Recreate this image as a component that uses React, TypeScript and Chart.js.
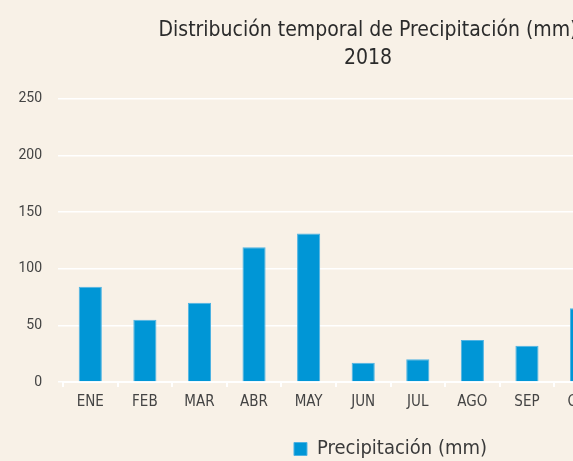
import React, { useEffect, useRef } from "react";
import { Chart, registerables } from "chart.js";

Chart.register(...registerables);

const months = ["ENE", "FEB", "MAR", "ABR", "MAY", "JUN", "JUL", "AGO", "SEP", "OCT", "NOV", "DIC"];
const precipitation = [84, 55, 70, 119, 131, 17, 20, 37, 32, 65, 90, 80];
const titleLines = ["Distribución temporal de Precipitación (mm)", "2018"];
const seriesLabel = "Precipitación (mm)";

const BG = "#f8f1e7";
const BAR = "#0096d6";
const W = 740;
const H = 469;
const COND = "'Liberation Sans Narrow', 'DejaVu Sans Condensed', sans-serif";

export default function App() {
  const ref = useRef<HTMLCanvasElement | null>(null);
  useEffect(() => {
    if (!ref.current) return;
    const chart = new Chart(ref.current, {
      type: "bar",
      data: {
        labels: months,
        datasets: [
          {
            label: seriesLabel,
            data: precipitation,
            backgroundColor: BAR,
            borderColor: "#4fb3e3",
            borderWidth: 1,
            categoryPercentage: 0.8,
            barPercentage: 0.53,
          },
        ],
      },
      options: {
        responsive: false,
        animation: false,
        layout: { padding: { left: 18, right: 22, top: 0, bottom: 0 } },
        plugins: {
          title: {
            display: true,
            text: titleLines,
            color: "#2b2b2b",
            font: { family: COND, size: 21, weight: "normal", lineHeight: 1.35 },
            padding: { top: 16, bottom: 26 },
          },
          legend: {
            display: true,
            position: "bottom",
            fullSize: false,
            labels: {
              boxWidth: 13,
              boxHeight: 13,
              color: "#3a3a3a",
              font: { family: COND, size: 20 },
              padding: 3,
            },
          },
          tooltip: { enabled: false },
        },
        scales: {
          x: {
            offset: true,
            afterFit: (scale: any) => {
              scale.height += 19;
            },
            grid: {
              drawOnChartArea: false,
              drawTicks: true,
              tickLength: 5,
              color: "#ffffff",
              lineWidth: 2,
              offset: true,
            },
            border: { display: true, color: "#ffffff", width: 2 },
            ticks: {
              color: "#444444",
              font: { family: COND, size: 15 },
              padding: 6,
            },
          },
          y: {
            min: 0,
            max: 250,
            afterFit: (scale: any) => {
              scale.width = 45;
            },
            grid: {
              color: "#ffffff",
              lineWidth: 1.5,
              drawTicks: true,
              tickLength: 5,
            },
            border: { display: false },
            ticks: {
              stepSize: 50,
              color: "#444444",
              font: { family: "Roboto, sans-serif", size: 14 },
              padding: 16,
            },
          },
        },
      },
    });
    return () => chart.destroy();
  }, []);
  return (
    <div style={{ position: "fixed", left: 0, top: 0, right: 0, bottom: 0, overflow: "hidden", background: BG }}>
      <canvas ref={ref} width={W} height={H} style={{ position: "absolute", left: 0, top: 0, width: W, height: H }} />
    </div>
  );
}
